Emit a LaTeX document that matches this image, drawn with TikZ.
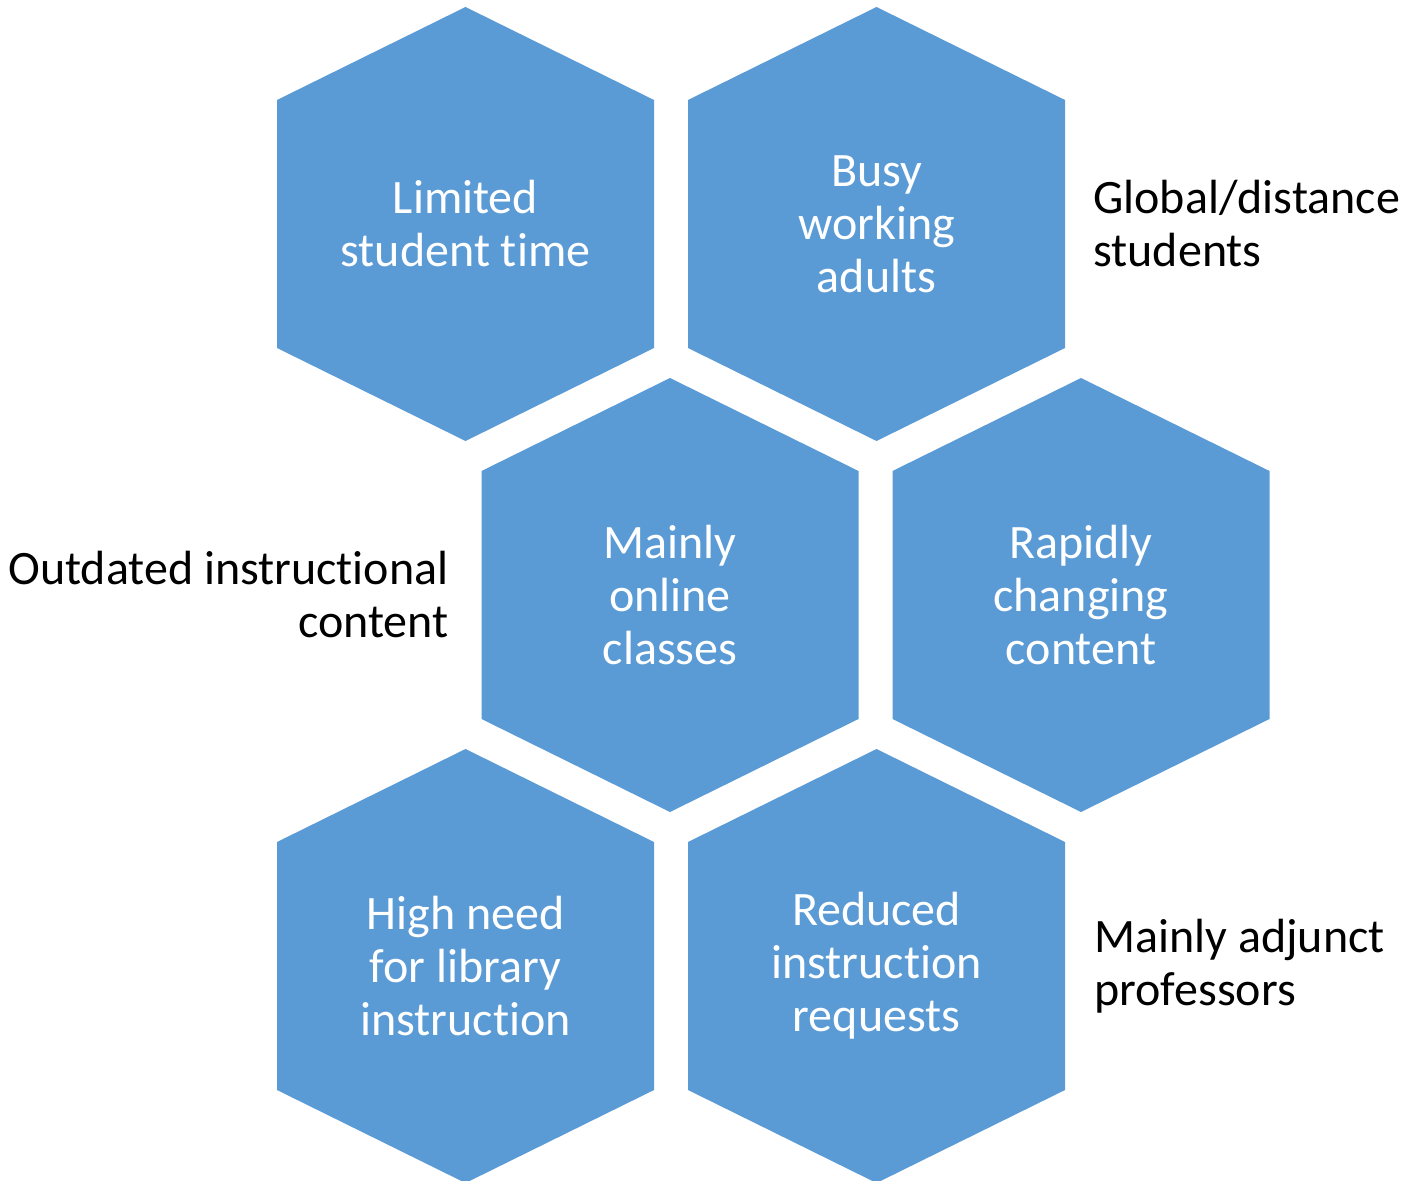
\documentclass[tikz,border=0pt]{standalone}
\usepackage{fontspec}
\setmainfont{Carlito}[Ligatures=NoCommon]
\definecolor{hexblue}{RGB}{91,155,213}

\begin{document}
\begin{tikzpicture}[x=0.5pt,y=-0.5pt,
  hexlabel/.style={text=white,align=center,inner sep=0pt,font=\fontsize{24}{26.5}\selectfont},
  sidelabel/.style={text=black,inner sep=0pt,font=\fontsize{24}{26.5}\selectfont}]
\useasboundingbox (0,0) rectangle (1406,1181);
%hexagons
\foreach \cx/\cy in {465.5/224,876.5/224,670/595,1081/595,465.5/966,876.5/966}
  \fill[hexblue] (\cx,\cy-217) -- (\cx+188.5,\cy-124) -- (\cx+188.5,\cy+124)
    -- (\cx,\cy+217) -- (\cx-188.5,\cy+124) -- (\cx-188.5,\cy-124) -- cycle;
%texts in the hexagons
\node[hexlabel] (limited) at (465.5,224) {Limited\\student time};
\node[hexlabel] (busy) at (876.5,224) {Busy\\working\\adults};
\node[hexlabel] (online) at (670,595) {Mainly\\online\\classes};
\node[hexlabel] (rapid) at (1081,595) {Rapidly\\changing\\content};
\node[hexlabel] (highneed) at (465.5,966) {High need\\for library\\instruction};
\node[hexlabel] (reduced) at (876.5,966) {Reduced\\instruction\\requests};
%texts beside
\node[sidelabel,anchor=west,align=left] (global) at (1093,224) {Global/distance\\students};
\node[sidelabel,anchor=east,align=right] (outdated) at (449,595) {Outdated instructional\\content};
\node[sidelabel,anchor=west,align=left] (adjunct) at (1094,966) {Mainly adjunct\\professors};
\end{tikzpicture}
\end{document}
